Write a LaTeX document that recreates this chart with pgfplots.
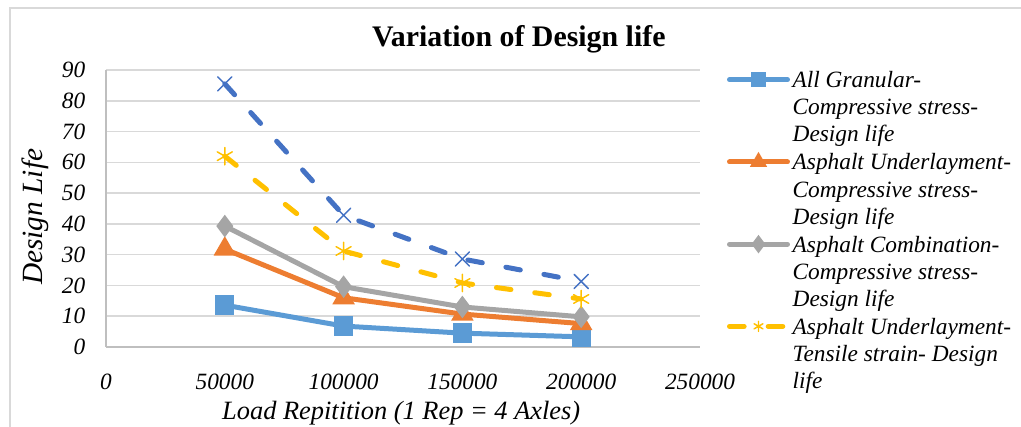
\documentclass[border=0pt]{standalone}
\usepackage{fontspec}
\setmainfont{Liberation Serif}
\usepackage{pgfplots}
\pgfplotsset{compat=1.18}
\definecolor{sblue}{HTML}{5B9BD5}
\definecolor{sorange}{HTML}{ED7D31}
\definecolor{sgray}{HTML}{A5A5A5}
\definecolor{sgold}{HTML}{FFC000}
\definecolor{sdblue}{HTML}{4472C4}
\definecolor{gridc}{HTML}{D9D9D9}
\definecolor{axisc}{HTML}{BFBFBF}

\begin{document}
\begin{tikzpicture}
% page = 1021x426 px at 0.75pt/px, origin at the axis' lower left corner
\useasboundingbox (-79.5pt,-59.25pt) rectangle (686.25pt,260.25pt);
\draw[gridc, line width=1.2pt] (700pt,254.25pt) -| (-72pt,-80pt);
\begin{axis}[
    scale only axis,
    width=445.5pt, height=207.75pt,
    xmin=0, xmax=250000,
    ymin=0, ymax=90,
    xtick={0,50000,...,250000},
    ytick={0,10,...,90},
    scaled x ticks=false,
    /pgf/number format/assume math mode=true,
    xticklabel={\pgfmathprintnumber[fixed,1000 sep={},assume math mode=true]{\tick}},
    yticklabel={\pgfmathprintnumber[assume math mode=true]{\tick}},
    tick label style={font=\fontsize{17.5}{20}\selectfont\itshape},
    xticklabel style={yshift=-17pt},
    yticklabel style={xshift=-12pt},
    major tick length=0pt,
    axis x line*=bottom, axis y line*=left,
    axis line style={-, draw=axisc, line width=1.5pt},
    ymajorgrids=true,
    grid style={gridc, line width=1.1pt},
    title={Variation of Design life},
    title style={at={(rel axis cs:0.695,1)}, anchor=base, yshift=12pt,
        font=\fontsize{22.4}{26}\selectfont\bfseries},
    xlabel={Load Repitition (1 Rep = 4 Axles)},
    xlabel style={at={(rel axis cs:0.497,0)}, anchor=base, yshift=-54.5pt,
        font=\fontsize{19.8}{22}\selectfont\itshape},
    ylabel={Design Life},
    ylabel style={at={([xshift=-47.25pt]rel axis cs:0,0.47)}, anchor=base,
        font=\fontsize{22}{24}\selectfont\itshape},
    legend style={at={(rel axis cs:1.045,1.005)}, anchor=north west,
        draw=none, fill=none, inner sep=0pt,
        font=\fontsize{17.5}{20.3}\selectfont\itshape,
        cells={anchor=base west, align=left, inner sep=0pt},
        row sep=3.4pt,
        /tikz/every even column/.append style={column sep=4pt}},
    legend image code/.code={
        \draw[mark repeat=2, mark phase=2, yshift=46.6pt]
        plot coordinates {(0pt,0pt)(21.75pt,0pt)(43.5pt,0pt)};},
    legend image post style={mark size=3.8pt},
    every axis plot/.append style={line width=3.75pt, line cap=round},
]
\addplot[color=sblue, mark=square*, mark size=5.4pt, mark options={solid}]
    coordinates {(50000,13.6)(100000,6.8)(150000,4.5)(200000,3.3)};
\addlegendentry{All Granular-\\Compressive stress-\\Design life}
\addplot[color=sorange, mark=triangle*, mark size=6pt, mark options={solid}]
    coordinates {(50000,31.8)(100000,16.0)(150000,10.7)(200000,7.6)};
\addlegendentry{Asphalt Underlayment-\\Compressive stress-\\Design life}
\addplot[color=sgray, mark=diamond*, mark size=5.4pt, mark options={solid}]
    coordinates {(50000,39.3)(100000,19.6)(150000,13.0)(200000,9.8)};
\addlegendentry{Asphalt Combination-\\Compressive stress-\\Design life}
\addplot[color=sgold, dash pattern=on 11pt off 18pt, mark=asterisk, mark size=6.5pt,
    mark options={solid, line width=1.1pt}]
    coordinates {(50000,62.0)(100000,31.2)(150000,20.8)(200000,15.6)};
\addlegendentry{Asphalt Underlayment-\\Tensile strain- Design\\life}
\addplot[color=sdblue, dash pattern=on 11pt off 18pt, mark=x, mark size=7.5pt,
    mark options={solid, line width=1.1pt}, forget plot]
    coordinates {(50000,85.5)(100000,42.8)(150000,28.6)(200000,21.3)};
\end{axis}
\end{tikzpicture}
\end{document}
